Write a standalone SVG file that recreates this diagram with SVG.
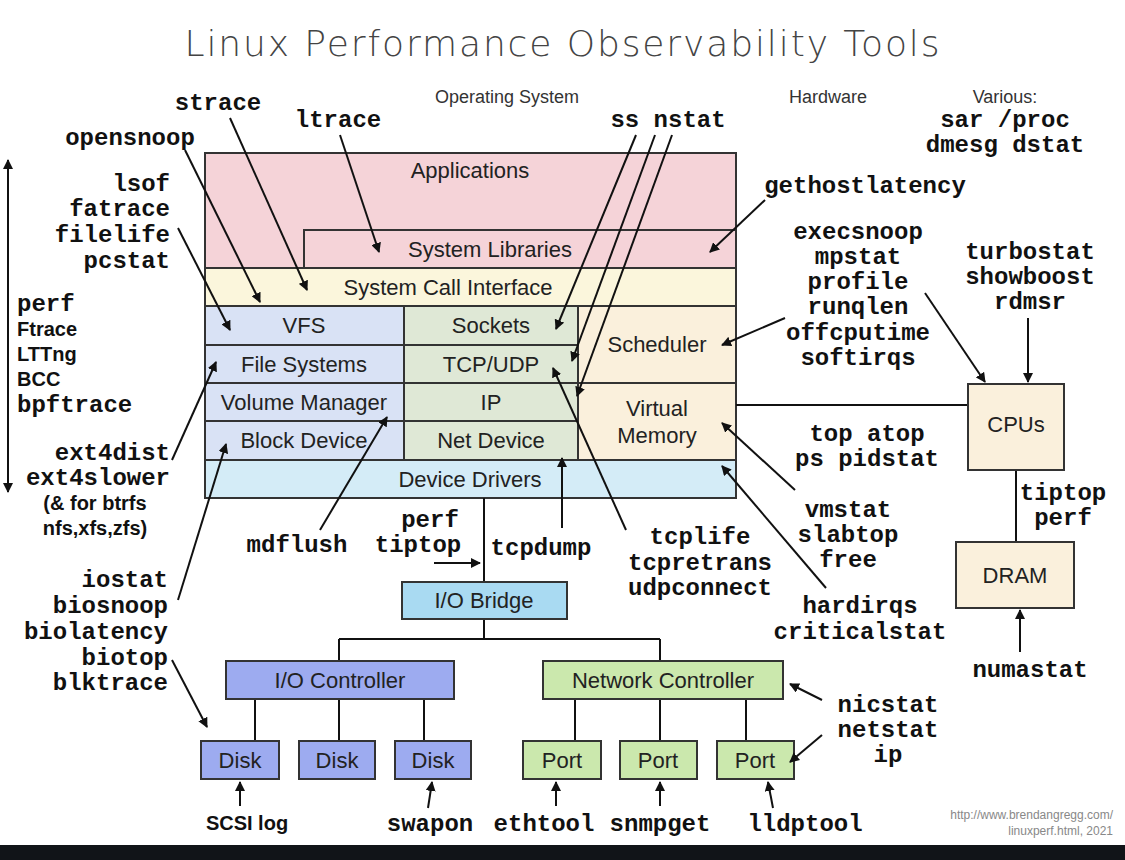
<svg xmlns="http://www.w3.org/2000/svg" width="1125" height="860" viewBox="0 0 1125 860">
<style>
.box{stroke:#333;stroke-width:2}
.s{font-family:"Liberation Sans",Arial,sans-serif;font-size:22px;fill:#222;text-anchor:middle}
.h{font-family:"Liberation Sans",Arial,sans-serif;font-size:18px;fill:#333;text-anchor:middle}
.m{font-family:"Liberation Mono","Courier New",monospace;font-weight:bold;font-size:24px;fill:#111}
.c{text-anchor:middle}.r{text-anchor:end}
.b{font-family:"Liberation Sans",Arial,sans-serif;font-weight:bold;font-size:20px;fill:#111}
#conn line{stroke:#111;stroke-width:2;fill:none}
#arr line{stroke:#111;stroke-width:2;marker-end:url(#ah)}
</style>
<defs><marker id="ah" viewBox="0 0 10 10" refX="9" refY="5" markerWidth="5" markerHeight="5" orient="auto"><path d="M0,0L10,5L0,10z" fill="#111"/></marker>
<marker id="ahs" viewBox="0 0 10 10" refX="1" refY="5" markerWidth="5" markerHeight="5" orient="auto"><path d="M10,0L0,5L10,10z" fill="#111"/></marker></defs>
<rect width="1125" height="860" fill="#fff"/>
<rect y="845" width="1125" height="15" fill="#111418"/>
<text x="562" y="56" font-family="'DejaVu Sans',sans-serif" font-weight="300" font-size="36" fill="#444" text-anchor="middle" textLength="755">Linux Performance Observability Tools</text>
<text class="h" x="507" y="103">Operating System</text>
<text class="h" x="828" y="103">Hardware</text>
<text class="h" x="1005" y="103">Various:</text>

<g id="stack">
<g id="applications"><rect class="box" x="205" y="153" width="531" height="115" fill="#f5d3d8"/><text class="s" x="470" y="178">Applications</text></g>
<g id="syslibs"><rect class="box" x="304" y="230" width="432" height="38" fill="#f5d3d8"/><text class="s" x="490" y="257">System Libraries</text></g>
<g id="syscall"><rect class="box" x="205" y="268" width="531" height="38" fill="#fbf6dc"/><text class="s" x="448" y="295">System Call Interface</text></g>
<g id="vfs"><rect class="box" x="205" y="306" width="199" height="39" fill="#d9e2f5"/><text class="s" x="304" y="333">VFS</text></g>
<g id="fs"><rect class="box" x="205" y="345" width="199" height="38" fill="#d9e2f5"/><text class="s" x="304" y="372">File Systems</text></g>
<g id="vm"><rect class="box" x="205" y="383" width="199" height="38" fill="#d9e2f5"/><text class="s" x="304" y="410">Volume Manager</text></g>
<g id="bd"><rect class="box" x="205" y="421" width="199" height="39" fill="#d9e2f5"/><text class="s" x="304" y="448">Block Device</text></g>
<g id="sockets"><rect class="box" x="404" y="306" width="174" height="39" fill="#dfe8d6"/><text class="s" x="491" y="333">Sockets</text></g>
<g id="tcpudp"><rect class="box" x="404" y="345" width="174" height="38" fill="#dfe8d6"/><text class="s" x="491" y="372">TCP/UDP</text></g>
<g id="ip"><rect class="box" x="404" y="383" width="174" height="38" fill="#dfe8d6"/><text class="s" x="491" y="410">IP</text></g>
<g id="netdev"><rect class="box" x="404" y="421" width="174" height="39" fill="#dfe8d6"/><text class="s" x="491" y="448">Net Device</text></g>
<g id="sched"><rect class="box" x="578" y="306" width="158" height="77" fill="#faf0dc"/><text class="s" x="657" y="352">Scheduler</text></g>
<g id="vmem"><rect class="box" x="578" y="383" width="158" height="77" fill="#faf0dc"/><text class="s" x="657" y="416">Virtual</text><text class="s" x="657" y="443">Memory</text></g>
<g id="drivers"><rect class="box" x="205" y="460" width="531" height="38" fill="#d4ecf7"/><text class="s" x="470" y="487">Device Drivers</text></g>
</g>

<g id="conn">
<line x1="484" y1="498" x2="484" y2="582"/>
<line x1="484" y1="619" x2="484" y2="639"/>
<line x1="339" y1="639" x2="660" y2="639"/>
<line x1="339" y1="639" x2="339" y2="661"/>
<line x1="660" y1="639" x2="660" y2="661"/>
<line x1="255" y1="699" x2="255" y2="741"/>
<line x1="339" y1="699" x2="339" y2="741"/>
<line x1="424" y1="699" x2="424" y2="741"/>
<line x1="575" y1="699" x2="575" y2="741"/>
<line x1="660" y1="699" x2="660" y2="741"/>
<line x1="746" y1="699" x2="746" y2="741"/>
<line x1="736" y1="405" x2="968" y2="405"/>
<line x1="1016" y1="470" x2="1016" y2="542"/>
</g>

<g id="iobridge"><rect class="box" x="402" y="582" width="165" height="37" fill="#a9daf2"/><text class="s" x="484" y="608">I/O Bridge</text></g>
<g id="ioctrl"><rect class="box" x="226" y="661" width="228" height="38" fill="#9dabf0"/><text class="s" x="340" y="688">I/O Controller</text></g>
<g id="netctrl"><rect class="box" x="543" y="661" width="240" height="38" fill="#cbe8ad"/><text class="s" x="663" y="688">Network Controller</text></g>
<g id="disk1"><rect class="box" x="201" y="741" width="78" height="38" fill="#9dabf0"/><text class="s" x="240" y="768">Disk</text></g>
<g id="disk2"><rect class="box" x="299" y="741" width="76" height="38" fill="#9dabf0"/><text class="s" x="337" y="768">Disk</text></g>
<g id="disk3"><rect class="box" x="395" y="741" width="76" height="38" fill="#9dabf0"/><text class="s" x="433" y="768">Disk</text></g>
<g id="port1"><rect class="box" x="523" y="741" width="78" height="38" fill="#cbe8ad"/><text class="s" x="562" y="768">Port</text></g>
<g id="port2"><rect class="box" x="620" y="741" width="77" height="38" fill="#cbe8ad"/><text class="s" x="658" y="768">Port</text></g>
<g id="port3"><rect class="box" x="717" y="741" width="77" height="38" fill="#cbe8ad"/><text class="s" x="755" y="768">Port</text></g>
<g id="cpus"><rect class="box" x="968" y="384" width="96" height="86" fill="#faf0dc"/><text class="s" x="1016" y="432">CPUs</text></g>
<g id="dram"><rect class="box" x="956" y="542" width="118" height="66" fill="#faf0dc"/><text class="s" x="1015" y="583">DRAM</text></g>

<g id="arr">
<line x1="230" y1="118" x2="307" y2="290"/>
<line x1="185" y1="150" x2="260" y2="302"/>
<line x1="178" y1="228" x2="230" y2="330"/>
<line x1="340" y1="135" x2="379" y2="252"/>
<line x1="636" y1="135" x2="556" y2="329"/>
<line x1="655" y1="135" x2="572" y2="361"/>
<line x1="672" y1="135" x2="577" y2="396"/>
<line x1="765" y1="200" x2="710" y2="252"/>
<line x1="785" y1="318" x2="722" y2="345"/>
<line x1="172" y1="460" x2="216" y2="362"/>
<line x1="178" y1="600" x2="226" y2="444"/>
<line x1="172" y1="660" x2="207" y2="727"/>
<line x1="320" y1="530" x2="387" y2="417"/>
<line x1="562" y1="528" x2="562" y2="458"/>
<line x1="626" y1="530" x2="553" y2="368"/>
<line x1="795" y1="490" x2="722" y2="423"/>
<line x1="826" y1="588" x2="722" y2="466"/>
<line x1="434" y1="563" x2="480" y2="563"/>
<line x1="925" y1="293" x2="985" y2="382"/>
<line x1="1028" y1="318" x2="1028" y2="382"/>
<line x1="1020" y1="652" x2="1020" y2="610"/>
<line x1="822" y1="700" x2="790" y2="684"/>
<line x1="822" y1="735" x2="790" y2="762"/>
<line x1="240" y1="806" x2="240" y2="782"/>
<line x1="428" y1="808" x2="432" y2="782"/>
<line x1="556" y1="806" x2="556" y2="782"/>
<line x1="660" y1="806" x2="660" y2="782"/>
<line x1="773" y1="808" x2="768" y2="782"/>
</g>
<line x1="8" y1="160" x2="8" y2="492" stroke="#111" stroke-width="2" marker-start="url(#ahs)" marker-end="url(#ah)"/>

<g id="labels">
<text class="m c" x="218" y="110">strace</text>
<text class="m c" x="338" y="127">ltrace</text>
<text class="m c" x="130" y="145">opensnoop</text>
<text class="m r" x="170" y="191">lsof</text>
<text class="m r" x="170" y="216">fatrace</text>
<text class="m r" x="170" y="242">filelife</text>
<text class="m r" x="170" y="268">pcstat</text>
<text class="m" x="17" y="311">perf</text>
<text class="b" x="17" y="336">Ftrace</text>
<text class="b" x="17" y="361">LTTng</text>
<text class="b" x="17" y="386">BCC</text>
<text class="m" x="17" y="412">bpftrace</text>
<text class="m r" x="170" y="460">ext4dist</text>
<text class="m r" x="170" y="485">ext4slower</text>
<text class="b" x="95" y="510" text-anchor="middle">(&amp; for btrfs</text>
<text class="b" x="95" y="535" text-anchor="middle">nfs,xfs,zfs)</text>
<text class="m r" x="168" y="587">iostat</text>
<text class="m r" x="168" y="613">biosnoop</text>
<text class="m r" x="168" y="639">biolatency</text>
<text class="m r" x="168" y="665">biotop</text>
<text class="m r" x="168" y="690">blktrace</text>
<text class="m c" x="297" y="552">mdflush</text>
<text class="m c" x="430" y="527">perf</text>
<text class="m c" x="418" y="552">tiptop</text>
<text class="m c" x="541" y="555">tcpdump</text>
<text class="m c" x="700" y="544">tcplife</text>
<text class="m c" x="700" y="570">tcpretrans</text>
<text class="m c" x="700" y="595">udpconnect</text>
<text class="m c" x="668" y="127">ss nstat</text>
<text class="m c" x="1005" y="127">sar /proc</text>
<text class="m c" x="1005" y="152">dmesg dstat</text>
<text class="m c" x="865" y="193">gethostlatency</text>
<text class="m c" x="858" y="239">execsnoop</text>
<text class="m c" x="858" y="264">mpstat</text>
<text class="m c" x="858" y="289">profile</text>
<text class="m c" x="858" y="314">runqlen</text>
<text class="m c" x="858" y="340">offcputime</text>
<text class="m c" x="858" y="365">softirqs</text>
<text class="m c" x="1030" y="259">turbostat</text>
<text class="m c" x="1030" y="284">showboost</text>
<text class="m c" x="1030" y="309">rdmsr</text>
<text class="m c" x="867" y="441">top atop</text>
<text class="m c" x="867" y="466">ps pidstat</text>
<text class="m c" x="848" y="517">vmstat</text>
<text class="m c" x="848" y="542">slabtop</text>
<text class="m c" x="848" y="567">free</text>
<text class="m c" x="860" y="613">hardirqs</text>
<text class="m c" x="860" y="639">criticalstat</text>
<text class="m c" x="1063" y="500">tiptop</text>
<text class="m c" x="1063" y="525">perf</text>
<text class="m c" x="1030" y="677">numastat</text>
<text class="m c" x="888" y="712">nicstat</text>
<text class="m c" x="888" y="737">netstat</text>
<text class="m c" x="888" y="762">ip</text>
<text class="b" x="247" y="830" text-anchor="middle">SCSI log</text>
<text class="m c" x="430" y="831">swapon</text>
<text class="m c" x="544" y="831">ethtool</text>
<text class="m c" x="660" y="831">snmpget</text>
<text class="m c" x="805" y="831">lldptool</text>
<text x="1113" y="819" font-family="'Liberation Sans',sans-serif" font-size="12" fill="#888" text-anchor="end">http://www.brendangregg.com/</text>
<text x="1113" y="835" font-family="'Liberation Sans',sans-serif" font-size="12" fill="#888" text-anchor="end">linuxperf.html, 2021</text>
</g>
</svg>
